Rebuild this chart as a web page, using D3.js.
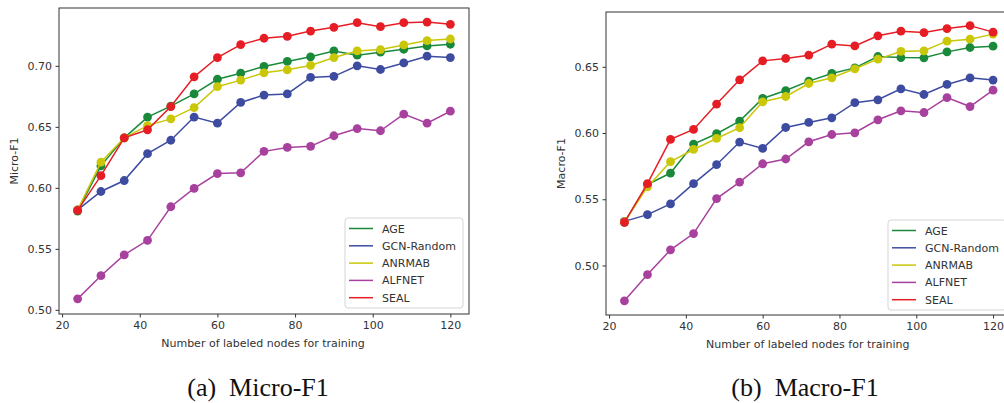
<!DOCTYPE html>
<html>
<head>
<meta charset="utf-8">
<script src="https://cdn.jsdelivr.net/npm/d3@7"></script>
<style>
  body { margin: 0; background: #fff; }
  svg { display: block; }
  .tick text { font-family: "DejaVu Sans", sans-serif; font-size: 11px; fill: #333; }
</style>
</head>
<body>
<svg width="1004" height="403"></svg>
<script>
const svg = d3.select('svg');

// number of labeled nodes
const nodes = [24, 30, 36, 42, 48, 54, 60, 66, 72, 78, 84, 90, 96, 102, 108, 114, 120];
const methods = ['AGE', 'GCN-Random', 'ANRMAB', 'ALFNET', 'SEAL'];
const colors = ['#1a8a3a', '#3d4ca0', '#c9c708', '#a8409e', '#e61d24'];

// Micro-F1
const microAGE    = [0.581, 0.618, 0.641, 0.658, 0.667, 0.677, 0.689, 0.694, 0.6995, 0.7036, 0.7074, 0.7122, 0.7087, 0.7112, 0.7136, 0.7163, 0.7177];
const microGCN    = [0.582, 0.597, 0.606, 0.628, 0.639, 0.658, 0.653, 0.670, 0.676, 0.677, 0.6905, 0.6914, 0.700, 0.697, 0.7024, 0.7079, 0.7068];
const microANRMAB = [0.582, 0.621, 0.641, 0.651, 0.6565, 0.6658, 0.6829, 0.6883, 0.6943, 0.6967, 0.7003, 0.7068, 0.7122, 0.7133, 0.7171, 0.7207, 0.722];
const microALFNET = [0.509, 0.528, 0.545, 0.557, 0.5845, 0.5995, 0.6117, 0.6123, 0.6299, 0.6331, 0.634, 0.6427, 0.6486, 0.6468, 0.6604, 0.653, 0.6628];
const microSEAL   = [0.5815, 0.610, 0.641, 0.6476, 0.6666, 0.691, 0.7068, 0.7174, 0.7226, 0.7242, 0.7285, 0.7316, 0.7354, 0.7321, 0.7354, 0.7359, 0.734];

// Macro-F1
const macroAGE    = [0.5326, 0.561, 0.5698, 0.5917, 0.5995, 0.609, 0.6261, 0.6321, 0.6392, 0.645, 0.6492, 0.6578, 0.657, 0.6568, 0.6613, 0.6646, 0.6656];
const macroGCN    = [0.5333, 0.5384, 0.5465, 0.5618, 0.5761, 0.5932, 0.5884, 0.6042, 0.608, 0.6115, 0.6229, 0.6251, 0.6334, 0.6291, 0.6367, 0.6417, 0.640];
const macroANRMAB = [0.533, 0.5593, 0.5784, 0.5876, 0.5959, 0.604, 0.6236, 0.6276, 0.6374, 0.6417, 0.6485, 0.6558, 0.6616, 0.6621, 0.6694, 0.6709, 0.6747];
const macroALFNET = [0.4733, 0.4931, 0.5118, 0.5241, 0.5505, 0.563, 0.5768, 0.5804, 0.5934, 0.5989, 0.6002, 0.610, 0.6168, 0.6155, 0.6268, 0.620, 0.6324];
const macroSEAL   = [0.5326, 0.5618, 0.5952, 0.6027, 0.6219, 0.6402, 0.6545, 0.6563, 0.6588, 0.6671, 0.6658, 0.6734, 0.6769, 0.6759, 0.6789, 0.6811, 0.6762];

const xTicks = [20, 40, 60, 80, 100, 120];
const microTicks = [0.50, 0.55, 0.60, 0.65, 0.70];
const macroTicks = [0.50, 0.55, 0.60, 0.65];

function drawPanel(p) {
    const g = svg.append('g');

    const x = d3.scaleLinear().domain([19.2, 124.8]).range([p.left, p.right]);
    const y = d3.scaleLinear().domain(p.yDomain).range([p.bottom, p.top]);

    g.append('g')
        .attr('transform', `translate(0,${p.bottom})`)
        .call(d3.axisBottom(x).tickValues(xTicks).tickSize(3.5).tickPadding(3.5).tickFormat(d3.format('d')))
        .call(a => a.select('.domain').remove())
        .call(a => a.selectAll('.tick line').attr('stroke', '#333'));

    g.append('g')
        .attr('transform', `translate(${p.left},0)`)
        .call(d3.axisLeft(y).tickValues(p.yTicks).tickSize(3.5).tickPadding(3.5).tickFormat(d3.format('.2f')))
        .call(a => a.select('.domain').remove())
        .call(a => a.selectAll('.tick line').attr('stroke', '#333'));

    const line = d3.line().x((d, i) => x(nodes[i])).y(d => y(d));

    p.series.forEach((s, k) => {
        g.append('path')
            .datum(s)
            .attr('d', line)
            .attr('fill', 'none')
            .attr('stroke', colors[k])
            .attr('stroke-width', 1.5);
        g.selectAll(null).data(s).enter().append('circle')
            .attr('cx', (d, i) => x(nodes[i]))
            .attr('cy', d => y(d))
            .attr('r', 4.4)
            .attr('fill', colors[k]);
    });

    // frame
    g.append('rect')
        .attr('x', p.left).attr('y', p.top)
        .attr('width', p.right - p.left).attr('height', p.bottom - p.top)
        .attr('fill', 'none').attr('stroke', '#333').attr('stroke-width', 1);

    g.append('text')
        .attr('x', (p.left + p.right) / 2 + p.xLabelShift)
        .attr('y', p.bottom + 33)
        .attr('text-anchor', 'middle')
        .style('font-family', '"DejaVu Sans", sans-serif')
        .style('font-size', '11px')
        .attr('fill', '#333')
        .text('Number of labeled nodes for training');

    g.append('text')
        .attr('transform', `translate(${p.yLabelX},${(p.top + p.bottom) / 2}) rotate(-90)`)
        .attr('text-anchor', 'middle')
        .style('font-family', '"DejaVu Sans", sans-serif')
        .style('font-size', '11px')
        .attr('fill', '#333')
        .text(p.yLabel);

    // legend
    const lg = g.append('g').attr('transform', `translate(${p.legendX},${p.legendY})`);
    lg.append('rect')
        .attr('width', 118).attr('height', 90).attr('rx', 3)
        .attr('fill', 'white').attr('fill-opacity', 0.8)
        .attr('stroke', '#d5d5d5');
    methods.forEach((m, k) => {
        const yy = 10.5 + k * 17.3;
        lg.append('line')
            .attr('x1', 4).attr('x2', 28).attr('y1', yy).attr('y2', yy)
            .attr('stroke', colors[k]).attr('stroke-width', 1.5);
        lg.append('text')
            .attr('x', 37).attr('y', yy + 4)
            .style('font-family', '"DejaVu Sans", sans-serif')
            .style('font-size', '11px')
            .attr('fill', '#333')
            .text(m);
    });

    svg.append('text')
        .attr('x', p.captionX)
        .attr('y', 396)
        .attr('text-anchor', 'middle')
        .style('font-family', '"Liberation Serif", serif')
        .style('font-size', '26px')
        .attr('fill', '#111')
        .attr('xml:space', 'preserve')
        .text(p.caption);
}

drawPanel({
    left: 59, right: 469, top: 8, bottom: 314,
    yDomain: [0.4966, 0.7474], yTicks: microTicks,
    series: [microAGE, microGCN, microANRMAB, microALFNET, microSEAL],
    yLabel: 'Micro-F1', yLabelX: 18, xLabelShift: -1,
    legendX: 345, legendY: 218,
    caption: '(a)  Micro-F1', captionX: 258
});

drawPanel({
    left: 606, right: 1011.5, top: 12, bottom: 315,
    yDomain: [0.4626, 0.6914], yTicks: macroTicks,
    series: [macroAGE, macroGCN, macroANRMAB, macroALFNET, macroSEAL],
    yLabel: 'Macro-F1', yLabelX: 565, xLabelShift: -1,
    legendX: 888, legendY: 220,
    caption: '(b)  Macro-F1', captionX: 805
});
</script>
</body>
</html>
